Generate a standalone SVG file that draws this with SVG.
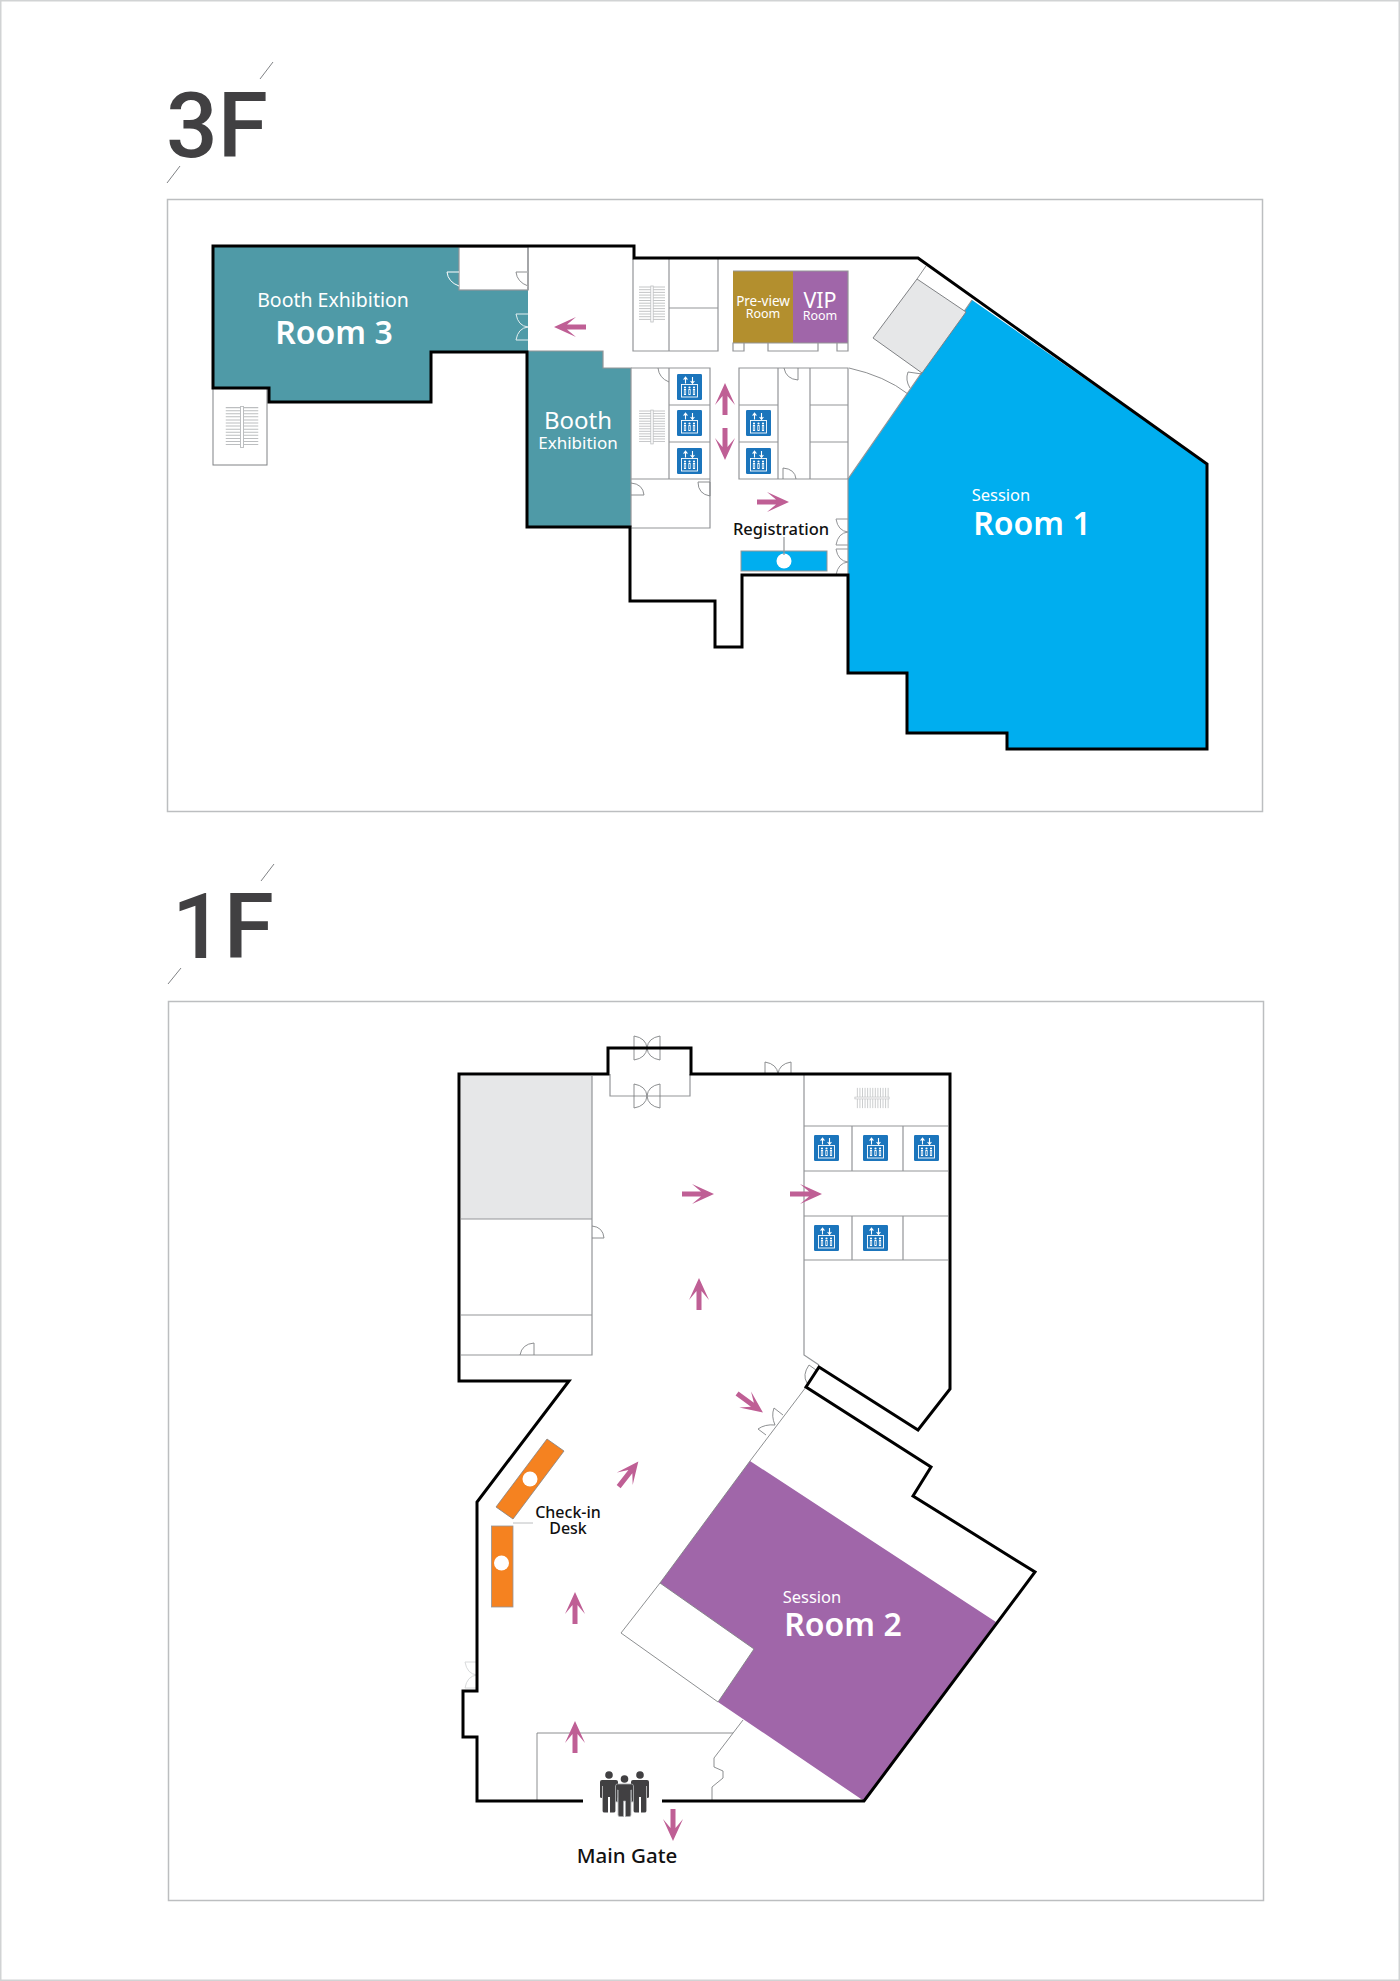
<svg xmlns="http://www.w3.org/2000/svg" xmlns:xlink="http://www.w3.org/1999/xlink" width="1400" height="1981" viewBox="0 0 1400 1981">
<style>
text{font-family:"Noto Sans","Open Sans","Liberation Sans",sans-serif}
.title{font-family:Roboto,"Liberation Sans",sans-serif;font-size:91px;font-weight:500;fill:#414042}
.w{fill:#fff;text-anchor:middle}
.k{fill:#111;text-anchor:middle;font-weight:500}
.b{font-weight:600}
.panel{fill:#fff;stroke:#bcbec0;stroke-width:1.5}
.wall{fill:none;stroke:#000;stroke-width:3;stroke-linejoin:miter}
.thin{fill:none;stroke:#939598;stroke-width:1.2}
.hair{fill:none;stroke:#808285;stroke-width:.9}
.pale{fill:none;stroke:#d8dadb;stroke-width:1}
.slash{fill:none;stroke:#808285;stroke-width:1}
.arrow{fill:#bf5f95}
</style>
<defs>
<path id="arrow" class="arrow" d="M-16,-2.5H3L-6,-10L16,0L-6,10L3,2.5H-16Z"/>
<path id="dd" d="M-13,-12V0M13,-12V0M-13,-12Q-1,-10 0,0Q1,-10 13,-12"/>
<path id="ddf" d="M-13,-12V12M13,-12V12M-13,-12Q-1,-10 0,0Q1,-10 13,-12M-13,12Q-1,10 0,0Q1,10 13,12"/>
<g id="lift">
<rect width="25" height="26" rx="1.2" fill="#1b75bc"/>
<path d="M8.5,9.5V3.5M6.6,5.6L8.5,3.2L10.4,5.6M15.5,3V9M13.6,7L15.5,9.3L17.4,7" fill="none" stroke="#fff" stroke-width="1.1"/>
<rect x="4.5" y="10.5" width="16" height="12.5" fill="none" stroke="#fff" stroke-width=".9"/>
<g fill="#fff"><circle cx="8" cy="13.5" r="1.1"/><circle cx="12.5" cy="13.5" r="1.1"/><circle cx="17" cy="13.5" r="1.1"/></g>
<path d="M8,15V21M12.5,15V21M17,15V21" fill="none" stroke="#fff" stroke-width="2.2"/>
<path d="M8,16V20M12.5,16V20M17,16V20" fill="none" stroke="#1b75bc" stroke-width=".7"/>
</g>
<g id="stair">
<path d="M-13,-17H13M-13,-14.3H13M-13,-11.6H13M-13,-8.9H13M-13,-6.2H13M-13,-3.5H13M-13,-.8H13M-13,1.9H13M-13,4.6H13M-13,7.3H13M-13,10H13M-13,12.7H13M-13,15.4H13" fill="none" stroke="#bcbec0" stroke-width=".9"/>
<rect x="-1.2" y="-18" width="2.4" height="36" fill="#fff" stroke="#bcbec0" stroke-width=".8"/>
</g>
<path id="person" fill="#414042" d="M-7,-12Q-9,-12 -9,-10V5Q-9,6 -7,6V-6H-6.4V19Q-6.4,20.5 -4.5,20.5H-1V5H1V20.5H4.5Q6.4,20.5 6.4,19V-6H7V6Q9,6 9,5V-10Q9,-12 7,-12Z"/>
</defs>

<rect id="page" x=".75" y=".75" width="1398.5" height="1979.5" fill="#fff" stroke="#d1d3d4" stroke-width="1.5"/>

<g id="title-3f">
<text class="title" x="166" y="157">3F</text>
<path class="slash" d="M273,62L260,79M180,166L167,183"/>
</g>
<rect id="panel-3f" class="panel" x="167.5" y="199.5" width="1095" height="612"/>

<g id="floor-3f">
<g id="room-3">
<path fill="#4f9aa7" d="M213,246H459V290H528V352H431V402H269V388H213Z"/>
<rect x="459" y="247" width="69" height="43" fill="#fff" stroke="#939598" stroke-width="1.2"/>
<path class="thin" d="M528,246V290"/>
<path d="M447,272H459M447,272Q448,282 459,286M516,272H528M516,272Q517,282 528,286" fill="none" stroke="#fff" stroke-width="1"/>
<path d="M516,272H528M516,272Q517,282 528,286" class="hair"/>
<g transform="translate(528,327) rotate(-90)" fill="none" stroke="#e4eff1" stroke-width="1"><use href="#dd" xlink:href="#dd"/></g>
<text class="w" x="333" y="307" font-size="19.5">Booth Exhibition</text>
<text class="w b" x="334" y="344" font-size="32">Room 3</text>
</g>
<g id="booth-exhibition">
<path fill="#4f9aa7" d="M527,351H603V368H631V527H527Z"/>
<path class="thin" d="M528,351H603V368H631V527"/>
<text class="w" x="578" y="429" font-size="24">Booth</text>
<text class="w" x="578" y="449" font-size="17">Exhibition</text>
</g>
<g id="stair-west">
<rect x="213" y="388" width="54" height="77" fill="#fff" stroke="#808285" stroke-width="1"/>
<use href="#stair" xlink:href="#stair" transform="translate(242,427) scale(1.25,1.14)"/>
</g>
<g id="room-1">
<path fill="#00aeef" d="M972,300L1207,464V749H1007V733H907V673H848V479Z"/>
<path class="thin" d="M972,300L848,479V575"/>
<text class="w" x="1001" y="501" font-size="16.5">Session</text>
<text class="w b" x="1032" y="535" font-size="32">Room 1</text>
</g>
<g id="grey-room">
<path fill="#e6e7e8" stroke="#808285" stroke-width="1" d="M917,279L966,312L922,373L873,338Z"/>
<path class="hair" d="M917,279L926,266"/>
</g>
<g id="stair-block">
<path class="thin" d="M633,259V351H718V259M669,259V351M669,308H718"/>
<use href="#stair" xlink:href="#stair" transform="translate(652,304)"/>
</g>
<g id="preview-room">
<rect x="733" y="271" width="60" height="72" fill="#b38f2e"/>
<text class="w" x="763" y="306" font-size="13.5">Pre-view</text>
<text class="w" x="763" y="318" font-size="12.5">Room</text>
</g>
<g id="vip-room">
<rect x="793" y="271" width="55" height="72" fill="#a066a9"/>
<text class="w" x="820" y="308" font-size="21.5">VIP</text>
<text class="w" x="820" y="320" font-size="12.5">Room</text>
</g>
<path id="room-stubs" class="thin" d="M733,271H848V351H837V343M848,343H733V351H744V343M768,343V351H818V343"/>
<g id="toilets-west">
<path class="thin" d="M631,368H710V528H631M631,479H710M669,368V479M669,405H710M669,442H710"/>
<path class="hair" d="M658,368Q659,378 669,382M631,495H644Q643,484 631,483M698,482H710V496Q698,494 698,482"/>
<use href="#stair" xlink:href="#stair" transform="translate(652,427) scale(1,.94)"/>
<use href="#lift" xlink:href="#lift" x="677" y="374"/>
<use href="#lift" xlink:href="#lift" x="677" y="410"/>
<use href="#lift" xlink:href="#lift" x="677" y="448"/>
</g>
<g id="toilets-east">
<path class="thin" d="M739,368H848V479H739ZM778,368V479M810,368V479M739,405H778M739,442H778M810,405H848M810,442H848"/>
<path class="hair" d="M784,368Q786,379 798,380V368M783,479V468Q795,469 796,479"/>
<path class="hair" d="M849,368Q885,376 908,394M922,374L908,372Q905,380 910,388"/>
<use href="#lift" xlink:href="#lift" x="746" y="410"/>
<use href="#lift" xlink:href="#lift" x="746" y="448"/>
</g>
<g id="registration">
<text class="k" x="781" y="535" font-size="16.5">Registration</text>
<rect x="741" y="551" width="86" height="20" fill="#00aeef" stroke="#939598" stroke-width="1"/>
<circle cx="784" cy="561" r="7.5" fill="#fff"/>
<path class="thin" d="M784,537V555"/>
</g>
<g fill="none" stroke="#939598" stroke-width="1">
<use href="#dd" xlink:href="#dd" transform="translate(848,532) rotate(-90)"/>
<use href="#dd" xlink:href="#dd" transform="translate(848,562) rotate(-90)"/>
</g>
<path id="wall-3f" class="wall" d="M213,246H634V258H918L1207,464V749H1007V733H907V673H848V575H742V647H715V601H630V527H527V352H431V402H269V388H213Z"/>
<use href="#arrow" xlink:href="#arrow" transform="translate(570,327) rotate(180)"/>
<use href="#arrow" xlink:href="#arrow" transform="translate(725,399) rotate(-90)"/>
<use href="#arrow" xlink:href="#arrow" transform="translate(725,444) rotate(90)"/>
<use href="#arrow" xlink:href="#arrow" transform="translate(773,502)"/>
</g>

<g id="title-1f">
<text class="title" x="172" y="958">1F</text>
<path class="slash" d="M274,864L261,881M181,968L168,984"/>
</g>
<rect id="panel-1f" class="panel" x="168.5" y="1001.5" width="1095" height="899"/>

<g id="floor-1f">
<g id="grey-store">
<rect x="461" y="1076" width="131" height="143" fill="#e6e7e8"/>
<path class="thin" d="M592,1076V1355H461M461,1219H592M461,1315H592"/>
<path class="hair" d="M592,1226Q603,1227 604,1238H592M520,1355Q522,1344 534,1343V1355"/>
</g>
<g id="vestibule">
<path class="thin" d="M610,1074V1096H690V1074"/>
<g class="hair"><use href="#ddf" xlink:href="#ddf" x="647" y="1048"/><use href="#ddf" xlink:href="#ddf" x="647" y="1096"/><use href="#dd" xlink:href="#dd" x="778" y="1074"/></g>
</g>
<g id="toilets-1f">
<path class="thin" d="M804,1074V1355L819,1365M804,1126H948M804,1171H948M804,1216H948M804,1260H948M852,1126V1171M903,1126V1171M852,1216V1260M903,1216V1260"/>
<g transform="translate(872,1098) rotate(90) scale(.78,.95)"><use href="#stair" xlink:href="#stair"/></g>
<use href="#lift" xlink:href="#lift" x="814" y="1135"/>
<use href="#lift" xlink:href="#lift" x="863" y="1135"/>
<use href="#lift" xlink:href="#lift" x="914" y="1135"/>
<use href="#lift" xlink:href="#lift" x="814" y="1225"/>
<use href="#lift" xlink:href="#lift" x="863" y="1225"/>
</g>
<g id="room-2">
<path fill="#a066a9" d="M750,1461L996,1622L864,1801L718,1702L754,1649L660,1583Z"/>
<path class="hair" d="M806,1387L750,1461L660,1583L621,1633L718,1702M660,1583L754,1649L718,1702"/>
<path class="hair" d="M816,1370L809,1365Q802,1375 807,1383M758,1429Q765,1424 775,1425Q771,1416 774,1408L783,1415M758,1429L766,1435"/>
<text class="w" x="812" y="1603" font-size="16.5">Session</text>
<text class="w b" x="843" y="1636" font-size="32">Room 2</text>
</g>
<path id="lobby-wall" class="hair" d="M537,1801V1733H733M743,1720L714,1758V1767L723,1771V1778L712,1787V1801"/>
<g id="check-in-desk">
<path fill="#f58220" stroke="#808285" stroke-width=".8" d="M547,1439L564,1451L513,1519L496,1507Z"/>
<circle cx="530" cy="1479" r="7.5" fill="#fff"/>
<rect x="491.500" y="1526" width="21.500" height="81" fill="#f58220" stroke="#939598" stroke-width=".8"/>
<circle cx="501.500" cy="1563" r="7.500" fill="#fff"/>
<path d="M513,1523H533" fill="none" stroke="#bcbec0" stroke-width="1"/>
<text class="k" x="568" y="1518" font-size="16">Check-in</text>
<text class="k" x="568" y="1534" font-size="16">Desk</text>
</g>
<g id="side-door" class="pale" fill="none" stroke="#bcbec0"><use href="#dd" xlink:href="#dd" transform="translate(477,1675) rotate(-90)"/></g>
<path id="wall-1f" class="wall" d="M583,1801H477V1737H463V1691H477V1502L569,1381H459V1074H608V1048H691V1074H950V1389L918,1430L819,1367L806,1387L931,1467L913,1496L1035,1572L864,1801H662"/>
<g id="main-gate">
<circle cx="609" cy="1775" r="3.800" fill="#414042"/>
<circle cx="640" cy="1775" r="3.800" fill="#414042"/>
<use href="#person" xlink:href="#person" x="609" y="1792"/>
<use href="#person" xlink:href="#person" x="640" y="1792"/>
<circle cx="624.500" cy="1779" r="3.800" fill="#414042"/>
<use href="#person" xlink:href="#person" transform="translate(624.500,1796)" stroke="#a7a9ac" stroke-width=".8"/>
<text class="k" x="627" y="1863" font-size="20.500">Main Gate</text>
</g>
<use href="#arrow" xlink:href="#arrow" transform="translate(698,1194)"/>
<use href="#arrow" xlink:href="#arrow" transform="translate(806,1194)"/>
<use href="#arrow" xlink:href="#arrow" transform="translate(699,1294) rotate(-90)"/>
<use href="#arrow" xlink:href="#arrow" transform="translate(750,1403) rotate(36)"/>
<use href="#arrow" xlink:href="#arrow" transform="translate(628.500,1474) rotate(-52)"/>
<use href="#arrow" xlink:href="#arrow" transform="translate(575,1608) rotate(-90)"/>
<use href="#arrow" xlink:href="#arrow" transform="translate(575,1737) rotate(-90)"/>
<use href="#arrow" xlink:href="#arrow" transform="translate(673,1825) rotate(90)"/>
</g>
</svg>
